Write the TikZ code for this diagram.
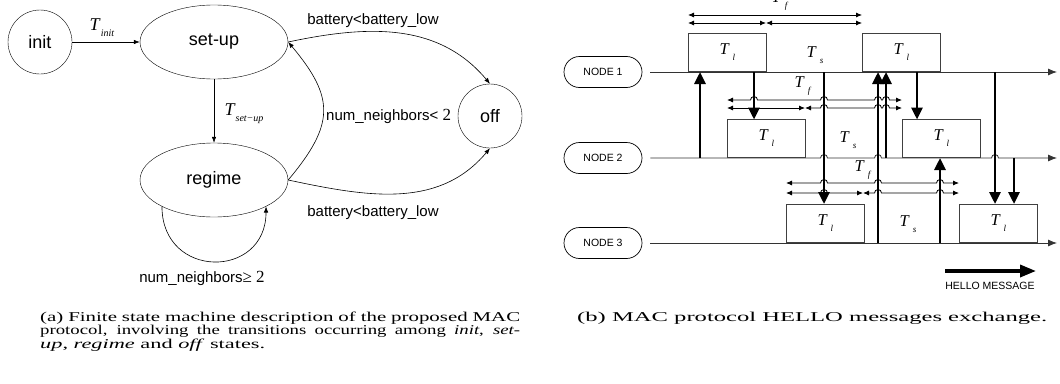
\documentclass[tikz,border=0pt]{standalone}
\usepackage{fontspec}
\setmainfont{Liberation Serif}
\setsansfont{Liberation Sans}
\usepackage{tikz}
\usetikzlibrary{arrows.meta, shapes.geometric, shapes.misc, positioning}

\newcommand{\tsub}[1]{\textit{T}\raisebox{-0.7ex}{\fontsize{10}{10}\selectfont\textit{#1}}}
\newcommand{\tper}[1]{\textit{T}\hspace{3pt}\raisebox{-0.8ex}{\fontsize{9}{9}\selectfont\textit{#1}}}
\newcommand{\capline}[2]{\resizebox{#1}{\height}{#2}}

\begin{document}
\begin{tikzpicture}[x=1pt, y=1pt, font=\sffamily,
	st/.style={ellipse, draw, minimum width=148pt, minimum height=74pt, inner sep=0pt, font=\sffamily\fontsize{18}{18}\selectfont},
	cst/.style={circle, draw, minimum size=64pt, inner sep=0pt, font=\sffamily\fontsize{18}{18}\selectfont},
	fl/.style={-{Latex[length=6pt, width=4.5pt]}, line width=0.6pt},
	lbl/.style={font=\sffamily\fontsize{15}{15}\selectfont, inner sep=0pt},
	tsym/.style={font=\rmfamily\fontsize{18}{18}\selectfont, inner sep=0pt},
	nd/.style={rounded rectangle, draw, line width=0.7pt, minimum width=78pt, minimum height=31pt, inner sep=0pt, font=\sffamily\fontsize{10.5}{10.5}\selectfont},
	tl/.style={-{Latex[length=9pt, width=7pt]}, draw=black!80, line width=0.8pt},
	lbox/.style={draw=black!75, line width=0.8pt, minimum width=78pt, minimum height=38.5pt, inner sep=0pt, anchor=south west, font=\rmfamily\fontsize{16.5}{16.5}\selectfont},
	tlab/.style={font=\rmfamily\fontsize{16.5}{16.5}\selectfont, inner sep=0pt},
	dur/.style={{Latex[length=6pt, width=5pt]}-{Latex[length=6pt, width=5pt]}, line width=0.8pt},
	msg/.style={-{Triangle[length=12pt, width=11pt]}, line width=2.8pt},
	capt/.style={font=\rmfamily\fontsize{13.5}{13.5}\selectfont, inner sep=0pt, align=left}]

	\useasboundingbox (0,0) rectangle (1060,-383);

	% finite state machine
	\node[cst] (init)   at (40,-42)   {init};
	\node[st]  (setup)  at (214,-42)  {set-up};
	\node[st]  (regime) at (214,-180) {regime};
	\node[cst] (off)    at (490,-116) {off};

	\draw[fl] (init) -- (setup);
	\draw[fl] (setup) -- (regime);
	\draw[fl] (setup.east) to[out=12, in=130] (off.north);
	\draw[fl] (regime.east) to[out=-12, in=-130] (off.south);
	\draw[fl] (regime.east) to[out=50, in=-50, looseness=1.35] (setup.east);
	\draw[fl] (regime.207) to[out=-90, in=-90, looseness=1.8] (regime.333);

	\node[tsym] (tinit) at (102,-28)  {\tsub{init}};
	\node[tsym] (tsetup) at (244,-114) {\tsub{set−up}};
	\node[lbl] (bat1) at (373,-21)  {battery<battery\_low};
	\node[lbl] (bat2) at (373,-213) {battery<battery\_low};
	\node[lbl, anchor=west] (nlow) at (326,-116) {num\_neighbors< {\rmfamily\fontsize{17}{17}\selectfont 2}};
	\node[lbl] (nhigh) at (202,-278) {num\_neighbors{\rmfamily\fontsize{17}{17}\selectfont ≥ 2}};

	% HELLO exchange
	\node[nd] (n1) at (603,-72)  {NODE 1};
	\node[nd] (n2) at (603,-158) {NODE 2};
	\node[nd] (n3) at (603,-243) {NODE 3};

	\draw[tl] ([xshift=8pt]n1.east) -- (1057,-72);
	\draw[tl] ([xshift=8pt]n2.east) \foreach \h in {824,878,995}{ -- (\h-3.5,-158) arc[start angle=180, end angle=0, radius=3.5] } -- (1057,-158);
	\draw[tl] ([xshift=8pt]n3.east) -- (1057,-243);

	\foreach \x/\y [count=\i] in {688/-72, 862/-72, 727/-158, 902/-158, 786/-243, 959/-243}
		\node[lbox] (lb\i) at (\x,\y) {\tper{l}};
	\node[tlab] (ts1) at (815,-55)  {\tper{s}};
	\node[tlab] (ts2) at (848,-140) {\tper{s}};
	\node[tlab] (ts3) at (908,-224) {\tper{s}};

	% frame durations
	\draw[dur] (688,-15) -- (862,-15);
	\draw[dur] (688,-23) -- (766,-23);
	\draw[dur] (766,-23) -- (862,-23);
	\node[tlab] (tf1) at (780,-1) {\tper{f}};

	\draw[dur] (727,-100) \foreach \h in {754,824,878,886}{ -- (\h-3.5,-100) arc[start angle=180, end angle=0, radius=3.5] } -- (902,-100);
	\draw[dur] (727,-108) -- (805,-108);
	\draw[dur] (805,-108) \foreach \h in {824,878,886}{ -- (\h-3.5,-108) arc[start angle=180, end angle=0, radius=3.5] } -- (902,-108);
	\node[tlab] (tf2) at (803,-86) {\tper{f}};

	\draw[dur] (786,-183) \foreach \h in {824,878,940}{ -- (\h-3.5,-183) arc[start angle=180, end angle=0, radius=3.5] } -- (959,-183);
	\draw[dur] (786,-193) \foreach \h in {824}{ -- (\h-3.5,-193) arc[start angle=180, end angle=0, radius=3.5] } -- (863,-193);
	\draw[dur] (863,-193) \foreach \h in {878,940}{ -- (\h-3.5,-193) arc[start angle=180, end angle=0, radius=3.5] } -- (959,-193);
	\node[tlab] (tf3) at (863,-170) {\tper{f}};

	% hello messages
	\foreach \x/\a/\b in {700/-158/-72, 754/-72/-119.5, 824/-72/-204, 878/-243/-72, 886/-158/-72,
		917/-72/-119.5, 940/-243/-158, 995/-72/-204, 1014/-158/-204}
		\draw[msg] (\x,\a) -- (\x,\b);

	\coordinate (hs) at (945,-271);
	\coordinate (he) at (1036,-271);
	\draw[msg, line width=3.5pt, -{Triangle[length=16pt, width=12pt]}] (hs) -- (he);
	\node[font=\sffamily\fontsize{10.5}{10.5}\selectfont, inner sep=0pt] (hello) at (990,-286) {HELLO MESSAGE};

	% captions
	\node[capt, anchor=north west] (capa) at (40,-311.5)
		{\capline{480pt}{\makebox[310pt][s]{(a) Finite state machine description of the proposed MAC}}\\
		 \capline{480pt}{\makebox[345pt][s]{protocol, involving the transitions occurring among \emph{init}, \emph{set-}}}\\
		 \capline{225pt}{\emph{up}, \emph{regime} and \emph{off} states.}};
	\node[capt, anchor=north west] (capb) at (577,-311.5) {\capline{470pt}{(b) MAC protocol HELLO messages exchange.}};
\end{tikzpicture}
\end{document}
